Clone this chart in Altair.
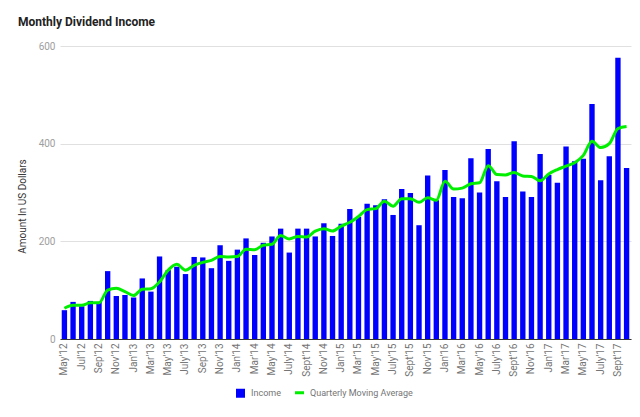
import altair as alt
import pandas as pd

months = [
    "May'12", "Jun'12", "Jul'12", "Aug'12", "Sep'12", "Oct'12", "Nov'12", "Dec'12",
    "Jan'13", "Feb'13", "Mar'13", "Apr'13", "May'13", "Jun'13", "July'13", "Aug'13",
    "Sep'13", "Oct'13", "Nov'13", "Dec'13",
    "Jan'14", "Feb'14", "Mar'14", "Apr'14", "May'14", "Jun'14", "July'14", "Aug'14",
    "Sept'14", "Oct'14", "Nov'14", "Dec'14",
    "Jan'15", "Feb'15", "Mar'15", "Apr'15", "May'15", "Jun'15", "July'15", "Aug'15",
    "Sept'15", "Oct'15", "Nov'15", "Dec'15",
    "Jan'16", "Feb'16", "Mar'16", "Apr'16", "May'16", "Jun'16", "July'16", "Aug'16",
    "Sept'16", "Oct'16", "Nov'16", "Dec'16",
    "Jan'17", "Feb'17", "Mar'17", "Apr'17", "May'17", "Jun'17", "July'17", "Aug'17",
    "Sept'17", "Oct'17",
]

income = [
    59, 76, 67, 78, 76, 139, 88, 90,
    85, 124, 97, 169, 141, 148, 133, 168, 167, 145, 192, 160,
    183, 206, 172, 197, 210, 226, 177, 226, 226, 210, 237, 211,
    236, 266, 250, 277, 274, 286, 254, 307, 299, 233, 335, 284,
    346, 291, 288, 370, 300, 389, 323, 291, 405, 302, 291, 379,
    336, 320, 394, 364, 369, 481, 325, 374, 576, 350,
]

moving_avg = [
    63, 69, 69, 74, 74, 100, 104, 97,
    89, 102, 103, 117, 141, 153, 141, 151, 157, 161, 169, 168,
    169, 184, 183, 192, 194, 212, 205, 210, 209, 221, 226, 221,
    231, 239, 251, 265, 267, 282, 272, 287, 287, 280, 289, 284,
    323, 307, 309, 318, 320, 355, 337, 336, 341, 334, 333, 324,
    338, 347, 354, 361, 376, 405, 392, 400, 431, 435,
]

y_ticks = [0, 200, 400, 600]
series_names = ["Income", "Quarterly Moving Average"]
series_colors = ["#0000ff", "#00ee00"]

df = pd.DataFrame({"month": months, "income": income, "avg": moving_avg})

FONT = "Roboto"

x_enc = alt.X(
    "month:N",
    sort=months,
    scale=alt.Scale(paddingInner=0.38, paddingOuter=0.2),
    axis=alt.Axis(
        values=months[::2],
        labelAngle=270,
        labelFontSize=10,
        labelColor="#757575",
        labelFont=FONT,
        labelPadding=4,
        ticks=False,
        domainColor="#333333",
        domainWidth=1,
        grid=False,
        title=None,
    ),
)

color_enc = alt.Color(
    "series:N",
    scale=alt.Scale(domain=series_names, range=series_colors),
    legend=alt.Legend(
        orient="none",
        legendX=176,
        legendY=342,
        direction="horizontal",
        title=None,
        labelFont=FONT,
        labelFontSize=9,
        labelColor="#757575",
        labelOffset=6,
        columnPadding=8,
        symbolSize=81,
        symbolType=alt.ExprRef(expr="datum.value === 'Income' ? 'square' : 'stroke'"),
        symbolStrokeWidth=alt.ExprRef(expr="datum.value === 'Income' ? 0 : 3"),
        symbolStrokeColor=alt.ExprRef(expr="datum.value === 'Income' ? '#0000ff' : '#00ee00'"),
        symbolFillColor=alt.ExprRef(expr="datum.value === 'Income' ? '#0000ff' : 'transparent'"),
        symbolOpacity=1,
    ),
)

bars = (
    alt.Chart(df)
    .transform_calculate(series="'Income'")
    .mark_bar()
    .encode(
        x=x_enc,
        y=alt.Y(
            "income:Q",
            scale=alt.Scale(domain=[0, 600], nice=False),
            axis=alt.Axis(
                values=y_ticks,
                title="Amount In US Dollars",
                titleFont=FONT,
                titleFontSize=10,
                titleFontWeight="normal",
                titleColor="#333333",
                titleAngle=270,
                titleAlign="center",
                titleBaseline="middle",
                titleX=-38,
                titleY=160,
                labelFont=FONT,
                labelFontSize=10,
                labelColor="#9e9e9e",
                labelPadding=5,
                domain=False,
                ticks=False,
                grid=True,
                gridColor="#e0e0e0",
                gridWidth=1,
            ),
        ),
        color=color_enc,
    )
)

line = (
    alt.Chart(df)
    .transform_calculate(series="'Quarterly Moving Average'")
    .mark_line(interpolate="monotone", strokeWidth=3)
    .encode(
        x=x_enc,
        y=alt.Y("avg:Q"),
        color=color_enc,
    )
)

chart = (
    alt.layer(bars, line)
    .properties(
        width=571,
        height=293,
        padding={"left": 52, "top": 38, "right": 1, "bottom": 68},
        autosize=alt.AutoSizeParams(type="none"),
        title=alt.TitleParams(
            "Monthly Dividend Income",
            anchor="start",
            font=FONT,
            fontSize=12,
            fontWeight="bold",
            color="#222222",
            dx=1,
            offset=12,
        ),
    )
    .configure_view(stroke=None)
)

chart.save("out.html", embed_options={"renderer": "svg", "actions": False})
